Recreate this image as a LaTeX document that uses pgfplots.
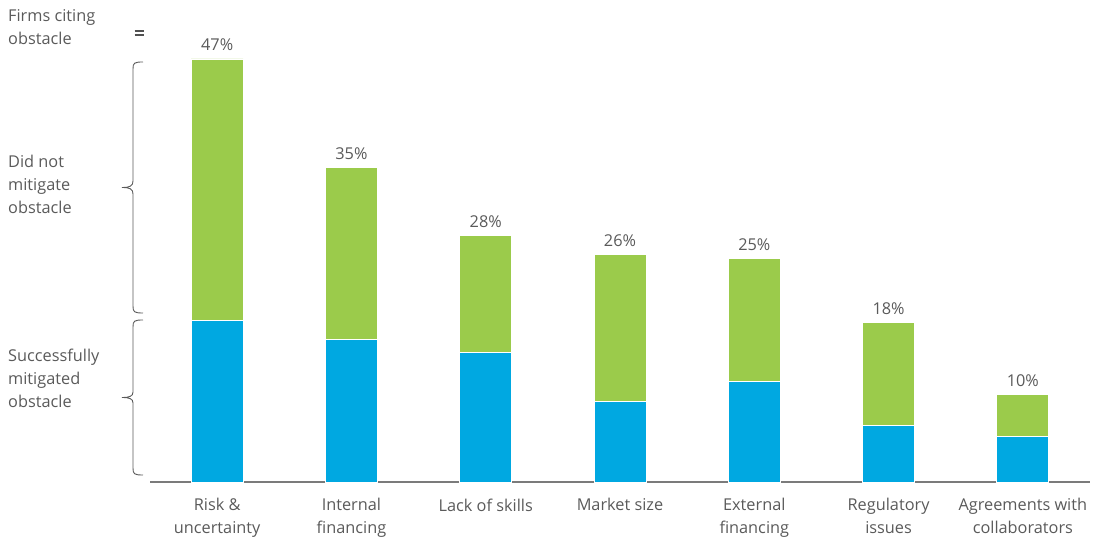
\documentclass[border=0pt]{standalone}
\usepackage{pgfplots}
\pgfplotsset{compat=1.18}
\usepackage{fontspec}
\setmainfont{Open Sans}
\definecolor{tgray}{RGB}{90,90,90}
\definecolor{bblue}{RGB}{0,168,225}
\definecolor{bgreen}{RGB}{155,203,75}
\begin{document}
\begin{tikzpicture}[x=1pt,y=1pt]
\useasboundingbox (0,0) rectangle (1106,538);
\begin{axis}[
  at={(150pt,56pt)}, anchor=south west,
  scale only axis, width=940pt, height=450pt,
  ybar stacked, bar width=52pt,
  xmin=-0.5, xmax=6.5, ymin=0, ymax=50,
  axis x line*=bottom, axis y line=none,
  x axis line style={draw=tgray!80, line width=1.5pt, -},
  major tick length=0,
  xtick={0,...,6},
  xticklabels={{Risk \&\\uncertainty},{Internal\\financing},{Lack of skills},{Market size},{External\\financing},{Regulatory\\issues},{Agreements with\\collaborators}},
  xticklabel style={align=center, text=tgray, font=\fontsize{16.3}{23}\selectfont, yshift=-13pt},
  clip=false,
]
\addplot[fill=bblue, draw=white, line width=0.8pt] coordinates {(0,17.9) (1,15.8) (2,14.4) (3,8.9) (4,11.2) (5,6.3) (6,5.1)};
\addplot[fill=bgreen, draw=white, line width=0.8pt] coordinates {(0,29.1) (1,19.1) (2,13.0) (3,16.4) (4,13.6) (5,11.4) (6,4.6)};
\end{axis}
\begin{axis}[
  at={(150pt,56pt)}, anchor=south west,
  scale only axis, width=940pt, height=450pt,
  xmin=-0.5, xmax=6.5, ymin=0, ymax=50,
  hide axis, clip=false,
]
\addplot[ybar, bar width=52pt, draw=none, fill=none,
  point meta=explicit symbolic,
  nodes near coords,
  every node near coord/.append style={text=tgray, font=\fontsize{16.3}{19}\selectfont, anchor=base, inner sep=0pt, yshift=8pt}]
  coordinates {(0,47.0) [47\%] (1,34.9) [35\%] (2,27.4) [28\%] (3,25.3) [26\%] (4,24.8) [25\%] (5,17.7) [18\%] (6,9.7) [10\%]};
\end{axis}
\begin{scope}[every node/.style={text=tgray, font=\fontsize{16.3}{23}\selectfont, align=left, anchor=west, inner sep=0pt}]
\node at (8,511) {Firms citing\\obstacle};
\node at (8,354) {Did not\\mitigate\\obstacle};
\node at (8,160) {Successfully\\mitigated\\obstacle};
\end{scope}
\draw[tgray!90!black, line width=1.6pt] (134.5,507) -- (143.5,507) (134.5,503) -- (143.5,503);
\draw[tgray, line width=0.9pt] (143,476) .. controls (134,476) and (133,475) .. (133,469) -- (133,357) .. controls (133,352) and (130,350.5) .. (122,350.5) .. controls (130,350.5) and (133,349) .. (133,344) -- (133,232) .. controls (133,226) and (134,225) .. (143,225);
\draw[tgray, line width=0.9pt] (143,218) .. controls (134,218) and (133,217) .. (133,211) -- (133,146) .. controls (133,142) and (130,140.5) .. (122,140.5) .. controls (130,140.5) and (133,139) .. (133,135) -- (133,70) .. controls (133,64) and (134,63) .. (143,63);
\end{tikzpicture}
\end{document}
